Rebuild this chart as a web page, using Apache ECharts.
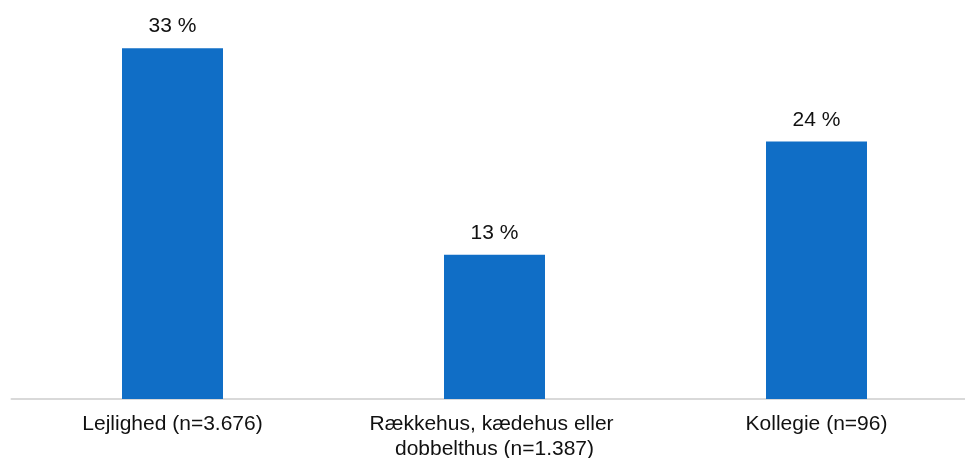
<!DOCTYPE html>
<html>
<head>
<meta charset="utf-8">
<script src="https://cdn.jsdelivr.net/npm/echarts@6/dist/echarts.min.js"></script>
<style>html,body{margin:0;padding:0;background:#fff;}#c{width:965px;height:458px;}</style>
</head>
<body>
<div id="c"></div>
<script>
const categories = ["Lejlighed (n=3.676)", "Rækkehus, kædehus eller dobbelthus (n=1.387)", "Kollegie (n=96)"];
const values = [33.1, 13.6, 24.3];
const valueLabels = ["33 %", "13 %", "24 %"];

const chart = echarts.init(document.getElementById('c'), null, {renderer: 'canvas'});
chart.setOption({
  animation: false,
  backgroundColor: '#ffffff',
  grid: {left: 11.5, width: 966, top: 28, bottom: 59, containLabel: false, outerBoundsMode: 'none'},
  xAxis: {
    type: 'category',
    data: categories,
    axisLine: {lineStyle: {color: '#d9d9d9', width: 2}},
    axisTick: {show: false},
    axisLabel: {
      interval: 0, margin: 13, color: '#111', fontSize: 21,
      fontFamily: 'Liberation Sans, Arial, sans-serif', lineHeight: 25,
      width: 270, overflow: 'break'
    }
  },
  yAxis: {
    type: 'value', min: 0, max: 35,
    show: false, splitLine: {show: false}
  },
  series: [{
    type: 'bar',
    data: values,
    barWidth: 101,
    itemStyle: {color: '#106EC6'},
    label: {
      show: true, position: 'top', distance: 11,
      color: '#111', fontSize: 21, fontFamily: 'Liberation Sans, Arial, sans-serif',
      formatter: p => valueLabels[p.dataIndex]
    }
  }]
});
</script>
</body>
</html>
